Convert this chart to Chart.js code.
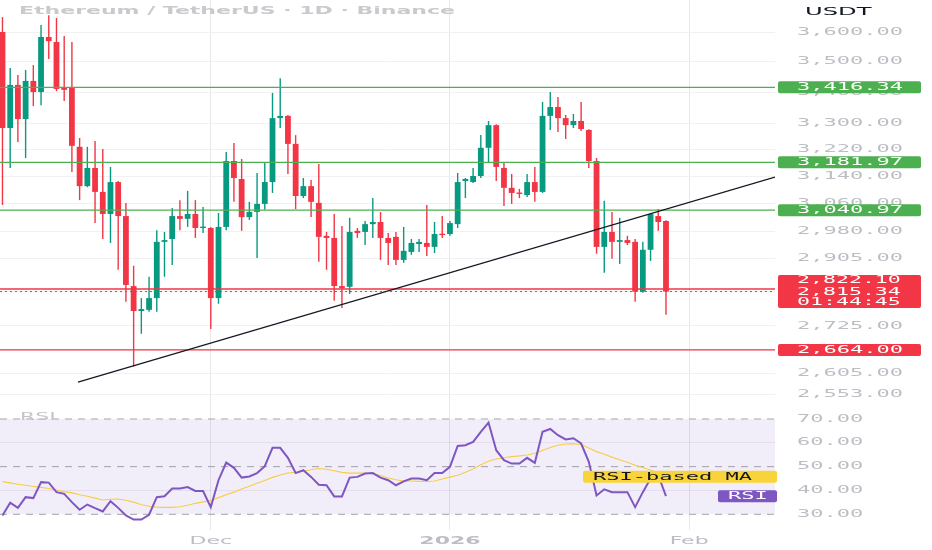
<!DOCTYPE html>
<html><head><meta charset="utf-8">
<script src="https://cdn.jsdelivr.net/npm/chart.js@4.4.1/dist/chart.umd.min.js"></script>
<style>
html,body{margin:0;padding:0;background:#fff;width:932px;height:550px;overflow:hidden}
#price{position:absolute;left:0;top:0}
#rsi{position:absolute;left:0;top:405px}
</style></head><body>
<canvas id="price" width="932" height="405"></canvas>
<canvas id="rsi" width="932" height="145"></canvas>
<script>
// ---------- DATA ----------
const titleText = 'Ethereum / TetherUS \u00b7 1D \u00b7 Binance';
const currency = 'USDT';
// day offsets from 1 Dec 2025 (Nov 4 2025 ... Jan 29 2026)
const days = [-27,-26,-25,-24,-23,-22,-21,-20,-19,-18,-17,-16,-15,-14,-13,-12,-11,-10,-9,-8,-7,-6,-5,-4,-3,-2,-1,
  0,1,2,3,4,5,6,7,8,9,10,11,12,13,14,15,16,17,18,19,20,21,22,23,24,25,26,27,28,29,30,
  31,32,33,34,35,36,37,38,39,40,41,42,43,44,45,46,47,48,49,50,51,52,53,54,55,56,57,58,59];
const opens = [3600,3287,3424,3315,3437,3401,3583,3566,3414,3414,
  3229,3111,3165,3094,3030,3123,3024,2830,2764,2767,
  2798,2951,2959,3024,3016,3030,2990,2990,2798,2993,
  3186,3132,3021,3036,3059,3123,3318,3325,3238,3082,
  3111,3062,2968,2962,2830,2828,2982,2979,3001,3007,
  2962,2965,2901,2923,2945,2948,2937,2973,2973,3001,
  3126,3123,3141,3226,3296,3165,3106,3091,3085,3123,
  3094,3325,3353,3318,3296,3309,3281,3186,2937,2979,
  2951,2956,2951,2815,2929,3024,3010];
const highs = [3651,3479,3456,3473,3489,3624,3658,3648,3586,3566,
  3256,3229,3247,3222,3168,3126,3062,2885,2798,2855,
  2984,2979,3047,3070,3097,3070,3050,2993,3033,3213,
  3241,3192,3065,3150,3180,3398,3446,3328,3265,3135,
  3129,3177,2979,3030,2996,3019,2990,3010,3076,3036,
  2976,2979,2993,2959,2959,3056,3007,3024,3010,3150,
  3135,3165,3265,3309,3299,3183,3147,3103,3147,3168,
  3369,3401,3385,3328,3331,3369,3283,3195,3068,3036,
  3019,2968,2959,2951,3033,3044,3012];
const lows = [3056,3165,3244,3195,3356,3359,3509,3404,3372,3153,
  3070,3108,3004,2959,2948,2874,2788,2622,2705,2762,
  2762,2855,2887,2984,2993,2962,2976,2717,2783,2984,
  3065,2982,3013,2906,3042,3091,3287,3147,3044,3076,
  3021,2896,2874,2791,2772,2809,2962,2942,2962,2901,
  2887,2887,2893,2915,2923,2912,2920,2962,2968,2990,
  3076,3120,3135,3183,3126,3053,3059,3076,3079,3065,
  3091,3281,3275,3253,3287,3278,3165,2918,2866,2904,
  2890,2942,2788,2812,2898,2982,2754];
const closes = [3287,3424,3315,3437,3401,3583,3569,3411,3408,3232,
  3111,3165,3094,3030,3123,3024,2833,2764,2769,2798,
  2951,2956,3024,3016,3030,2990,2993,2798,2993,3186,
  3135,3021,3036,3059,3123,3318,3325,3238,3082,3111,
  3065,2965,2962,2830,2825,2979,2976,3001,3007,2962,
  2948,2901,2926,2948,2951,2937,2973,2970,3004,3123,
  3132,3141,3226,3296,3168,3106,3091,3088,3123,3094,
  3325,3353,3318,3296,3309,3284,3186,2937,2979,2951,
  2956,2948,2815,2929,3030,3007,2815.34];
const rsi = [29.5,34.9,32.7,37.2,36.8,43.5,43.3,39.3,38.6,35.1,
  31.9,34.1,32.6,31.2,35.5,32.7,29.5,27.8,27.8,29.8,
  37.2,37.6,40.8,40.8,41.4,39.8,39.8,33.0,44.3,51.7,
  49.5,45.4,45.9,47.3,50.2,57.9,57.9,53.7,47.3,48.5,
  45.7,42.4,42.2,37.5,37.5,45.4,45.7,47.1,47.3,45.4,
  44.3,42.2,43.8,45.0,45.0,44.3,47.3,47.3,49.9,58.7,
  59.0,60.4,64.6,68.5,56.9,52.7,51.3,51.3,53.7,51.6,
  64.6,65.8,63.2,61.4,61.9,59.7,52.0,37.9,40.5,39.3,
  39.3,39.3,33.0,39.3,45.0,46.4,37.6];
const rsiMa = [43.7,43.2,42.6,42.2,41.7,41.3,40.8,40.2,39.5,39.0,
  38.2,37.6,36.8,36.0,36.3,36.4,35.9,35.1,34.0,33.4,
  33.0,32.9,32.9,33.2,33.8,34.6,35.2,35.8,37.0,38.2,
  39.3,40.6,41.8,43.0,44.2,45.5,46.5,47.3,47.6,48.2,
  48.7,49.2,48.9,48.3,47.6,47.3,47.3,47.3,47.0,46.3,
  45.2,44.5,44.0,44.0,43.8,43.8,44.0,44.8,45.6,46.4,
  47.6,49.0,50.8,52.3,53.2,53.7,54.2,54.5,54.9,55.6,
  56.8,58.0,59.0,59.5,59.6,59.3,57.8,56.3,55.2,54.0,
  52.9,51.8,50.6,49.6,48.6,47.2,45.8];
const greenLevels = [3416.34, 3181.97, 3040.97];
const redLevels = [2822.10, 2664.00];
const lastPrice = 2815.34;
const countdown = '01:44:45';
const trendDays = [-17.21, 73.13];
const trendPrices = [2584, 3138];
const monthTicks = [0, 31, 62];
const monthLabels = ['Dec', '2026', 'Feb'];
const priceTicks = [3600,3500,3400,3300,3220,3140,3060,2980,2905,2815,2725,2665,2605,2553];
const rsiTicks = [30,40,50,60,70];
const rsiBands = [70, 50, 30];
const xMin = -27.32, xMax = 73.13;
const priceMin = 2528.5, priceMax = 3710.8;
const rsiMin = 23.41, rsiMax = 75.87;

// ---------- STYLE ----------
const UP = '#089981', DOWN = '#f23645', GREEN_LINE = '#4caf50';
const AXIS_TXT = '#bcbec4';
const MONO = '"DejaVu Sans Mono"';
const SX = 2.2;
Chart.defaults.font.family = '"DejaVu Sans"';

const stretchPlugin = {
  id: 'stretch',
  beforeInit(chart) {
    const ctx = chart.ctx;
    const orig = CanvasRenderingContext2D.prototype.fillText;
    ctx.fillText = function (t, x, y, mw) {
      this.save();
      this.translate(x, y);
      this.scale(SX, 1);
      if (mw !== undefined && mw !== null) orig.call(this, t, 0, 0, mw / SX);
      else orig.call(this, t, 0, 0);
      this.restore();
    };
  }
};
const fmt = v => Number(v).toLocaleString('en-US', {minimumFractionDigits: 2, maximumFractionDigits: 2});

function tag(ctx, x, yc, w, h, bg, fg, texts, tx, lineYs) {
  ctx.fillStyle = bg;
  ctx.beginPath();
  ctx.roundRect(x, yc - h / 2, w, h, 2);
  ctx.fill();
  ctx.fillStyle = fg;
  ctx.textAlign = 'left';
  ctx.textBaseline = 'middle';
  texts.forEach((t, i) => ctx.fillText(t, tx, lineYs ? lineYs[i] : yc + 0.5));
}

const candleColors = days.map((d, i) => closes[i] >= opens[i] ? UP : DOWN);
const levelDs = (v, color, dash, w) => ({
  type: 'line', data: [{x: xMin, y: v}, {x: xMax, y: v}], borderColor: color,
  borderWidth: w, borderDash: dash, pointRadius: 0, fill: false, order: 1
});

const priceDeco = {
  id: 'priceDeco',
  afterDraw(chart) {
    const {ctx} = chart;
    const ys = chart.scales.y;
    ctx.save();
    ctx.font = 'bold 10px "DejaVu Sans"';
    ctx.fillStyle = '#c9cace';
    ctx.textAlign = 'left';
    ctx.textBaseline = 'middle';
    ctx.fillText(titleText, 19, 11);
    ctx.font = '11px "DejaVu Sans"';
    ctx.fillStyle = '#131722';
    ctx.fillText(currency, 805, 12.5);
    ctx.font = '10px ' + MONO;
    greenLevels.forEach(v => tag(ctx, 778, ys.getPixelForValue(v), 143, 12, GREEN_LINE, '#ffffff', [fmt(v)], 797));
    // combined red tag: level + last price + countdown
    const y1 = ys.getPixelForValue(redLevels[0]);
    const y2 = ys.getPixelForValue(lastPrice);
    const top = y1 - 14, bot = y2 + 16.5;
    ctx.fillStyle = DOWN;
    ctx.beginPath(); ctx.roundRect(778, top, 143, bot - top, 2); ctx.fill();
    ctx.fillStyle = '#ffffff';
    ctx.font = '9.8px ' + MONO;
    ctx.fillText(fmt(redLevels[0]), 797, y1 - 8.5);
    ctx.fillText(fmt(lastPrice), 797, y2 + 0.8);
    ctx.fillText(countdown, 797, y2 + 10.5);
    ctx.font = '10px ' + MONO;
    tag(ctx, 778, ys.getPixelForValue(redLevels[1]), 143, 12, DOWN, '#ffffff', [fmt(redLevels[1])], 797);
    ctx.restore();
  }
};

new Chart(document.getElementById('price'), {
  type: 'bar',
  data: {
    datasets: [
      {type: 'bar', label: 'wick', data: days.map((d, i) => ({x: d, y: [lows[i], highs[i]]})),
        backgroundColor: candleColors, barThickness: 1.4, grouped: false, inflateAmount: 0, order: 4},
      {type: 'bar', label: 'body', data: days.map((d, i) => ({x: d, y: [opens[i], closes[i]]})),
        backgroundColor: candleColors, barThickness: 5.8, grouped: false, minBarLength: 1.4, inflateAmount: 0, order: 3},
      ...greenLevels.map(v => levelDs(v, GREEN_LINE, [], 1.3)),
      ...redLevels.map(v => levelDs(v, DOWN, [], 1.3)),
      levelDs(lastPrice, DOWN, [2, 3], 1),
      {type: 'line', label: 'trend', data: trendDays.map((d, i) => ({x: d, y: trendPrices[i]})),
        borderColor: '#131722', borderWidth: 1.2, pointRadius: 0, fill: false, order: 0}
    ]
  },
  options: {
    responsive: false, animation: false,
    layout: {padding: 0},
    plugins: {legend: {display: false}, tooltip: {enabled: false}},
    scales: {
      x: {type: 'linear', min: xMin, max: xMax, bounds: 'data', offset: false,
        grid: {offset: false, color: '#e8e8eb', drawTicks: false}, border: {display: false},
        ticks: {display: false},
        afterBuildTicks: s => { s.ticks = monthTicks.map(v => ({value: v})); },
        afterFit: s => { s.height = 0; s.paddingLeft = 0; s.paddingRight = 0; }},
      y: {type: 'logarithmic', position: 'right', min: priceMin, max: priceMax, bounds: 'data',
        grid: {color: '#f1f1f4', drawTicks: false}, border: {display: false},
        ticks: {padding: 22, color: AXIS_TXT, font: {family: MONO, size: 10}, callback: v => fmt(v), autoSkip: false},
        afterBuildTicks: s => { s.ticks = priceTicks.map(v => ({value: v})); },
        afterFit: s => { s.width = 157; s.paddingTop = 0; s.paddingBottom = 0; }}
    }
  },
  plugins: [stretchPlugin, priceDeco]
});

const rsiDeco = {
  id: 'rsiDeco',
  afterDraw(chart) {
    const {ctx} = chart;
    const ys = chart.scales.y;
    ctx.save();
    ctx.font = '10px "DejaVu Sans"';
    ctx.fillStyle = '#c4c5ca';
    ctx.textAlign = 'left';
    ctx.textBaseline = 'middle';
    ctx.fillText('RSI', 20, 12);
    ctx.font = '10px ' + MONO;
    tag(ctx, 583, ys.getPixelForValue(rsiMa[rsiMa.length - 1]), 194, 12, '#f8d33a', '#131722', ['RSI-based MA'], 593);
    tag(ctx, 718, ys.getPixelForValue(rsi[rsi.length - 1]), 59, 12, '#7e57c2', '#ffffff', ['RSI'], 728);
    ctx.restore();
  }
};

const bandDs = (v, extra) => Object.assign({
  type: 'line', data: [{x: xMin, y: v}, {x: xMax, y: v}], borderColor: '#a6a6ab', borderWidth: 1,
  borderDash: [7, 6], pointRadius: 0, fill: false, order: 3
}, extra || {});

new Chart(document.getElementById('rsi'), {
  type: 'line',
  data: {
    datasets: [
      bandDs(rsiBands[0], {fill: {value: rsiBands[2]}, backgroundColor: 'rgba(126,87,194,0.10)'}),
      bandDs(rsiBands[1]),
      bandDs(rsiBands[2]),
      {label: 'RSI-based MA', data: days.map((d, i) => ({x: d, y: rsiMa[i]})), borderColor: '#f7cd45',
        borderWidth: 1.1, pointRadius: 0, fill: false, order: 1},
      {label: 'RSI', data: days.map((d, i) => ({x: d, y: rsi[i]})), borderColor: '#7e57c2',
        borderWidth: 2, pointRadius: 0, fill: false, order: 0}
    ]
  },
  options: {
    responsive: false, animation: false,
    layout: {padding: 0},
    plugins: {legend: {display: false}, tooltip: {enabled: false}},
    scales: {
      x: {type: 'linear', min: xMin, max: xMax, bounds: 'data', offset: false,
        grid: {color: '#e8e8eb', drawTicks: false}, border: {display: false},
        ticks: {padding: 5, color: AXIS_TXT, autoSkip: false, maxRotation: 0,
          font: c => ({family: '"DejaVu Sans"', size: 10, weight: c.index === 1 ? 'bold' : 'normal'}),
          callback: (v, i) => monthLabels[i]},
        afterBuildTicks: s => { s.ticks = monthTicks.map(v => ({value: v})); },
        afterFit: s => { s.height = 20; s.paddingLeft = 0; s.paddingRight = 0; }},
      y: {type: 'linear', position: 'right', min: rsiMin, max: rsiMax, bounds: 'data',
        grid: {drawTicks: false, color: c => (c.tick && (c.tick.value === 40 || c.tick.value === 60)) ? 'rgba(90,70,140,0.10)' : 'rgba(0,0,0,0)'},
        border: {display: false},
        ticks: {padding: 22, color: AXIS_TXT, font: {family: MONO, size: 10}, callback: v => Number(v).toFixed(2), autoSkip: false},
        afterBuildTicks: s => { s.ticks = rsiTicks.map(v => ({value: v})); },
        afterFit: s => { s.width = 157; s.paddingTop = 0; s.paddingBottom = 0; }}
    }
  },
  plugins: [stretchPlugin, rsiDeco]
});
</script>
</body></html>
